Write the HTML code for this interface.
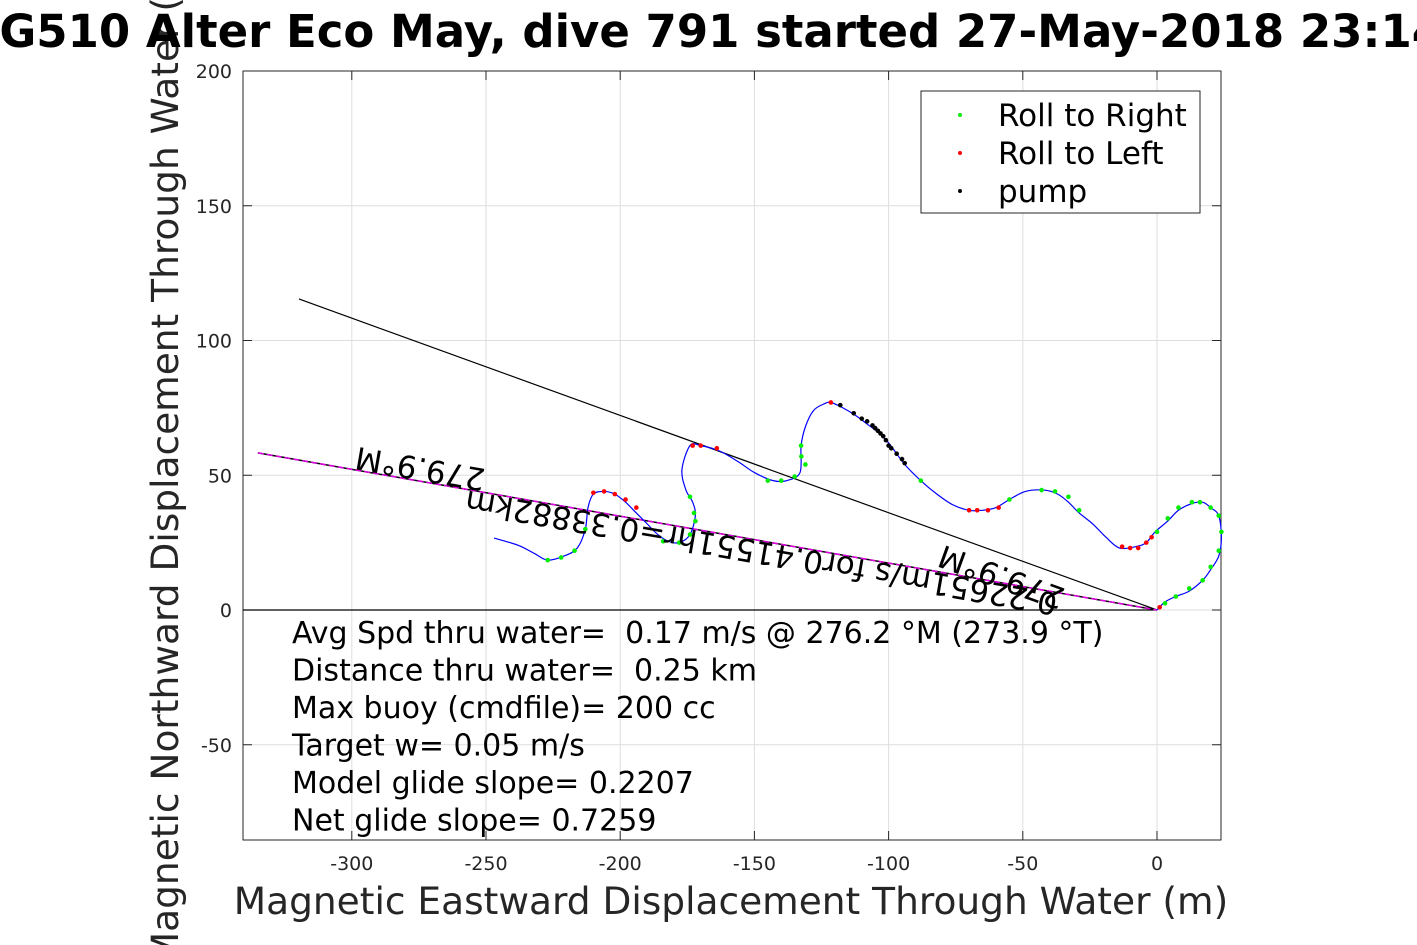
<!DOCTYPE html>
<html><head><meta charset="utf-8"><style>body{margin:0;background:#fff}svg{display:block;font-family:"DejaVu Sans","Liberation Sans",sans-serif}text{white-space:pre}</style></head>
<body>
<svg id="c" width="1417" height="945" viewBox="0 0 1417 945"></svg>
<script>
const xTicks=[-300,-250,-200,-150,-100,-50,0];
const yTicks=[200,150,100,50,0,-50];
const trackX=[-247,-238,-232,-227,-221,-216,-213,-212,-210,-206,-202,-198,-194,-190,-186,-182,-178,-174,-172,-173,-175.5,-177,-174,-170,-163,-156,-150,-143,-138,-133,-132.6,-131,-128,-124,-121.5,-117,-112,-108,-104,-100,-97,-94,-88,-82,-76,-70,-65,-60,-55,-49,-42,-37,-33,-29,-24,-19,-14,-8,-4,-0.7,4,8,13,17,20,23,24,23,20,17,12,7,3,0];
const trackY=[26.7,24,21,18.5,20,23,30,38,43,44,43,40,36,32,28,25.5,25,28,35,40,44.5,52,61,61,59,55,51,48,48,51,61,68,74,76.5,77,75,72,69,66,62,58,54,48,43,39,37,37,38,41,44,44.5,43,40,36,32,27,23,23.5,25,29,33,37,39.5,40,38,35,27,20,15,11,7,5,3,0];
const rightX=[-227,-222,-217,-213,-184,-178,-174,-172,-172.5,-174,-145,-140,-135,-131,-132.5,-132.6,-88,-55,-43,-38,-33,-29,0,4,8,13,16,20,23,24,23,20,17,12,7,3];
const rightY=[18.5,19.5,22,30,25.5,25,28,33,36,42,48,48,49.5,54,57,61,48,41,44.5,44,42,37,29,34,38,40,40,38,35,29,22,16,11,8,5,2.5];
const leftX=[-210,-206,-202,-198,-194,-173,-170,-164,-121.5,-70,-67,-63,-59,-13,-10,-7,-4,-2,1];
const leftY=[43.5,44,43,41,38,61,61,60,77,37,37,37,38,23.5,23,23,25,27,1];
const pumpX=[-118,-113,-110,-108,-106,-105,-104,-103,-102,-101,-100,-99,-97,-95,-94];
const pumpY=[76,73,71,70,68.5,67.5,66.5,65.5,64.5,63,61,60,58,56,54.5];
const headingLine=[-319.7,115.4];
const avgLine=[-335,58.3];
const infoLines=["Avg Spd thru water=  0.17 m/s @ 276.2 °M (273.9 °T)","Distance thru water=  0.25 km","Max buoy (cmdfile)= 200 cc","Target w= 0.05 m/s","Model glide slope= 0.2207","Net glide slope= 0.7259"];
const L=243,R=1221,T=71,B=840;
const sx=v=>1157+v*2.684, sy=v=>610-v*2.695;
const svg=document.getElementById('c');const NS='http://www.w3.org/2000/svg';
function mk(tag,at,parent,txt){const e=document.createElementNS(NS,tag);for(const k in at)e.setAttribute(k,at[k]);if(txt!==undefined)e.textContent=txt;(parent||svg).appendChild(e);return e;}
let e;
e=mk('rect',{x:L,y:T,width:R-L,height:B-T,fill:'#fff',stroke:'none'});


xTicks.forEach(t=>{const x=sx(t);
 e=mk('line',{x1:x,x2:x,y1:T,y2:B,stroke:'#dedede','stroke-width':1});
 
 
 mk('line',{x1:x,x2:x,y1:B,y2:B-9,stroke:'#262626'});mk('line',{x1:x,x2:x,y1:T,y2:T+9,stroke:'#262626'});
 e=mk('text',{x:x,y:870,'text-anchor':'middle','font-size':19,fill:'#262626'},null,String(t));
 
 });
yTicks.forEach(t=>{const y=sy(t);
 e=mk('line',{x1:L,x2:R,y1:y,y2:y,stroke:'#dedede','stroke-width':1});
 
 
 mk('line',{x1:L,x2:L+9,y1:y,y2:y,stroke:'#262626'});mk('line',{x1:R,x2:R-9,y1:y,y2:y,stroke:'#262626'});
 e=mk('text',{x:232,y:y+7,'text-anchor':'end','font-size':19,fill:'#262626'},null,String(t));
 
 });
e=mk('rect',{x:L,y:T,width:R-L,height:B-T,fill:'none',stroke:'#262626','stroke-width':1});


e=mk('line',{x1:L,x2:sx(0),y1:sy(0),y2:sy(0),stroke:'#000','stroke-width':1.2});


e=mk('line',{x1:sx(headingLine[0]),y1:sy(headingLine[1]),x2:sx(0),y2:sy(0),stroke:'#000','stroke-width':1.2});


e=mk('line',{x1:sx(avgLine[0]),y1:sy(avgLine[1]),x2:sx(0),y2:sy(0),stroke:'#000','stroke-width':1.5});


e=mk('line',{x1:sx(avgLine[0]),y1:sy(avgLine[1]),x2:sx(0),y2:sy(0),stroke:'#e000e0','stroke-width':1.5,'stroke-dasharray':'6 3'});


const P=trackX.map((x,i)=>[sx(x),sy(trackY[i])]);
let d='M'+P[0][0]+','+P[0][1];
for(let i=0;i<P.length-1;i++){const p0=P[Math.max(i-1,0)],p1=P[i],p2=P[i+1],p3=P[Math.min(i+2,P.length-1)];
 d+=` C${p1[0]+(p2[0]-p0[0])/6},${p1[1]+(p2[1]-p0[1])/6} ${p2[0]-(p3[0]-p1[0])/6},${p2[1]-(p3[1]-p1[1])/6} ${p2[0]},${p2[1]}`;}
e=mk('path',{d:d,fill:'none',stroke:'#0000ff','stroke-width':1.2});


function dots(xs,ys,col,name){xs.forEach((x,i)=>{e=mk('circle',{cx:sx(x),cy:sy(ys[i]),r:2.3,fill:col});
 
 });}
dots(rightX,rightY,'#00ee00','roll-right-point');
dots(leftX,leftY,'#ff0000','roll-left-point');
dots(pumpX,pumpY,'#000','pump-point');
e=mk('text',{x:0,y:0,'font-size':31,fill:'#000','text-anchor':'middle',transform:`translate(422,458) rotate(189.9)`},null,'279.9°M');


e=mk('text',{x:0,y:0,'font-size':31,fill:'#000','text-anchor':'middle',transform:`translate(1005,567) rotate(199.9)`},null,'279.9°M');


e=mk('text',{x:0,y:0,'font-size':31,fill:'#000','text-anchor':'middle',transform:`translate(763,542) rotate(189.9)`},null,'0.22651m/s for0.41551hr=0.33882km');


infoLines.forEach((s,i)=>{e=mk('text',{x:292,y:643+i*37.5,'font-size':30,fill:'#000'},null,s);
 
 });
const g=mk('g',{});
mk('rect',{x:921,y:91,width:279,height:122,fill:'#fff',stroke:'#262626'},g);
[['Roll to Right','#00ee00'],['Roll to Left','#ff0000'],['pump','#000']].forEach((it,i)=>{
 e=mk('circle',{cx:960,cy:115+i*38,r:2,fill:it[1]},g);
 
 
 e=mk('text',{x:998,y:126+i*38,'font-size':31,fill:'#000'},g,it[0]);
 
 });
e=mk('text',{x:731,y:914,'text-anchor':'middle','font-size':37.5,fill:'#262626'},null,'Magnetic Eastward Displacement Through Water (m)');


e=mk('text',{x:0,y:0,'text-anchor':'middle','font-size':37.5,fill:'#262626',transform:'translate(178,455) rotate(-90)'},null,'Magnetic Northward Displacement Through Water (m)');


e=mk('text',{x:705,y:47,'text-anchor':'middle','font-size':45,'font-weight':'bold',fill:'#000'},null,'SG510 Alter Eco May, dive 791 started 27-May-2018 23:14');


</script>
</body></html>
